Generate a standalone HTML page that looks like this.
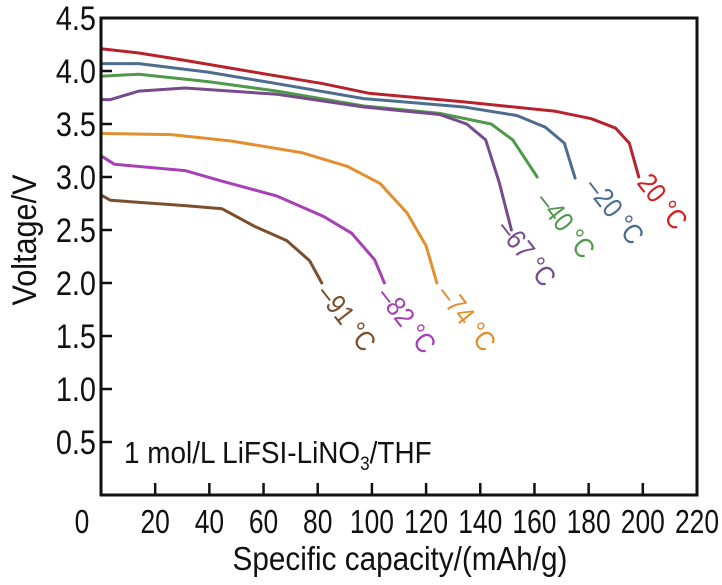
<!DOCTYPE html>
<html><head><meta charset="utf-8">
<style>
body{margin:0;background:#fff;}
svg{display:block;font-family:"Liberation Sans",sans-serif;}
</style></head>
<body>
<svg id="chart" width="722" height="585" viewBox="0 0 722 585">
<g id="plot"></g>
<g id="axes"></g>
<text x="0" y="0" transform="translate(36,240) rotate(-90) scale(0.9,1)" text-anchor="middle" font-size="34" fill="#111">Voltage/V</text>
<text x="0" y="0" transform="translate(400,570) scale(0.9,1)" text-anchor="middle" font-size="33" fill="#111">Specific capacity/(mAh/g)</text>
<text x="0" y="0" transform="translate(124,463) scale(0.9,1)" font-size="31" fill="#111">1 mol/L LiFSI-LiNO<tspan font-size="19" dy="7">3</tspan><tspan dy="-7">/THF</tspan></text>
</svg>
<script>
const xTicks=[0,20,40,60,80,100,120,140,160,180,200,220];
const yTicks=[0.5,1.0,1.5,2.0,2.5,3.0,3.5,4.0,4.5];
const seriesNames=["20 °C","-20 °C","-40 °C","-67 °C","-74 °C","-82 °C","-91 °C"];
const cap20=[0,14,31,51.6,82,99,133.6,167.8,181,190,195,198.5];
const v20=[4.21,4.17,4.10,4.01,3.88,3.79,3.71,3.62,3.55,3.46,3.32,3.0];
const capM20=[0,14,39.5,65,97,134,153.5,164,171,175];
const vM20=[4.07,4.07,3.99,3.88,3.74,3.66,3.58,3.47,3.32,2.99];
const capM40=[0,14,39.5,65,97,125,144,152,161];
const vM40=[3.95,3.97,3.90,3.81,3.67,3.60,3.50,3.35,3.0];
const capM67=[0,3.5,14,31,65,97,125,135,142,147,151.5];
const vM67=[3.73,3.73,3.81,3.84,3.78,3.66,3.59,3.50,3.35,2.95,2.5];
const capM74=[0,26,48,74,91,103,113,120,124];
const vM74=[3.41,3.40,3.34,3.23,3.10,2.94,2.66,2.35,2.0];
const capM82=[0,5,31,44.7,65,82,92.5,101,104.6];
const vM82=[3.20,3.12,3.06,2.96,2.82,2.63,2.47,2.22,2.0];
const capM91=[0,3.5,31,44.7,57,68.6,77,81.5];
const vM91=[2.83,2.78,2.73,2.70,2.53,2.40,2.21,2.0];

const NS="http://www.w3.org/2000/svg";
const X0=101,X1=697,Y0=495,Y45=18;
function sx(c){return X0+(c/220)*(X1-X0);}
function sy(v){return Y0-(v/4.5)*(Y0-Y45);}
const plot=document.getElementById('plot');
const axes=document.getElementById('axes');
function mk(tag,attrs,parent){const e=document.createElementNS(NS,tag);for(const k in attrs)e.setAttribute(k,attrs[k]);parent.appendChild(e);return e;}

const series=[
 [cap20,v20,"#b8222c","red-curve-20c"],
 [capM20,vM20,"#4d6d8f","blue-curve-minus20c"],
 [capM40,vM40,"#4f9a4a","green-curve-minus40c"],
 [capM67,vM67,"#774a8c","purple-curve-minus67c"],
 [capM74,vM74,"#e0902e","orange-curve-minus74c"],
 [capM82,vM82,"#a640b4","magenta-curve-minus82c"],
 [capM91,vM91,"#7a4f2e","brown-curve-minus91c"]
];
series.forEach(s=>{
 const pts=s[0].map((c,i)=>sx(c).toFixed(1)+","+sy(s[1][i]).toFixed(1)).join(" ");
 const p=mk('polyline',{points:pts,fill:"none",stroke:s[2],"stroke-width":"3","stroke-linejoin":"round","stroke-linecap":"round"},plot);
 
 
});

const fr=mk('rect',{x:X0,y:Y45,width:X1-X0,height:Y0-Y45,fill:"none",stroke:"#111","stroke-width":"3"},axes);


yTicks.forEach(v=>{
 const y=sy(v);
 const t=mk('line',{x1:X0,x2:X0+11,y1:y,y2:y,stroke:"#111","stroke-width":"2.5"},axes);
 
 
 const l=mk('text',{x:0,y:0,transform:`translate(${X0-5},${y+12}) scale(0.85,1)`,"text-anchor":"end","font-size":"34",fill:"#111"},axes);
 l.textContent=v.toFixed(1);
 
 
});
xTicks.forEach(c=>{
 const x=sx(c);
 if(c>0&&c<220){
  const t=mk('line',{x1:x,x2:x,y1:Y0,y2:Y0-12,stroke:"#111","stroke-width":"2.5"},axes);
  
  
 }
 const l=mk('text',{x:0,y:0,transform:`translate(${c===0?82:x},533) scale(0.8,1)`,"text-anchor":"middle","font-size":"33",fill:"#111"},axes);
 l.textContent=c;
 
 
});

const labels=[
 ["20 °C",636,183,"#d42020"],
 ["\u201320 °C",584,187,"#4d6d8f"],
 ["\u201340 °C",535,201,"#4f9a4a"],
 ["\u201367 °C",496,229,"#774a8c"],
 ["\u201374 °C",436,294,"#e0902e"],
 ["\u201382 °C",376,296,"#a640b4"],
 ["\u201391 °C",316,294,"#7a4f2e"]
];
labels.forEach(L=>{
 const a=mk('text',{x:0,y:0,"font-size":"28",fill:L[3],transform:`translate(${L[1]},${L[2]}) rotate(52) scale(0.88,1)`},axes);
 a.textContent=L[0];
 
 
});
</script>
</body></html>
